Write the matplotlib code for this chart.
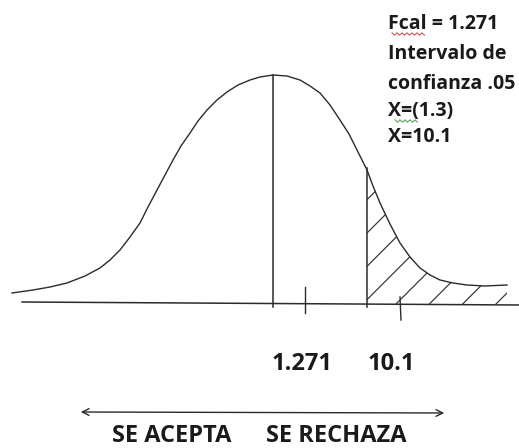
import numpy as np
import matplotlib
matplotlib.use('Agg')
import matplotlib.pyplot as plt

# hand drawn bell curve (pixel units, y grows down)
curve_x = [12, 33, 50, 67, 85, 100, 110, 120, 130, 140, 148, 157, 165, 173, 181, 190,
           198, 207, 217, 227, 238, 250, 260, 273, 287, 300, 310, 320, 330, 340, 349,
           357, 367, 373, 380, 390, 400, 410, 420, 430, 440, 453, 467, 485, 507]
curve_y = [293, 290, 287, 283, 276, 268, 260, 250, 237, 223, 207, 190, 175, 160, 146, 133,
           121, 110, 100, 92, 85, 80, 77, 75, 76, 80, 86, 93, 105, 120, 134,
           150, 170, 186, 203, 224, 243, 257, 268, 275, 280, 283, 285, 286, 285]

mean_x = 273          # vertical line at the peak
crit_x = 367          # start of rejection region
tick_x = [305, 400]
tick_labels = ['1.271', '10.1']
info_lines = ['Fcal = 1.271', 'Intervalo de', 'confianza .05', 'X=(1.3)', 'X=10.1']
zone_labels = ['SE ACEPTA', 'SE RECHAZA']

ink = '#2b2b2b'
font = ['Open Sans', 'DejaVu Sans']

fig = plt.figure(figsize=(5.19, 4.48), dpi=100)
ax = fig.add_axes([0, 0, 1, 1])
ax.set_xlim(0, 519)
ax.set_ylim(448, 0)
ax.axis('off')

cx = np.array(curve_x)
cy = np.array(curve_y)
ax.plot(cx, cy, color=ink, lw=1.0)

# baseline
ax.plot([22, 519], [302, 305], color=ink, lw=1.1)

# peak line and critical line
ax.plot([mean_x, mean_x], [75, 307], color=ink, lw=1.1)
ax.plot([crit_x, crit_x], [168, 307], color=ink, lw=1.1)

# hatched rejection tail
m = cx >= crit_x
plt.rcParams['hatch.linewidth'] = 0.9
plt.rcParams['hatch.color'] = '#3a3a3a'
ax.fill_between(cx[m], cy[m], 304, facecolor='none', hatch='/', edgecolor='#3a3a3a', linewidth=0)

# little tick marks
ax.plot([tick_x[0], tick_x[0]], [287, 313], color=ink, lw=1.0)
ax.plot([tick_x[1], tick_x[1] + 1], [297, 320], color=ink, lw=1.0)

txt = dict(fontweight='bold', family=font, color='#1a1a1a')
ax.text(302, 364, tick_labels[0], ha='center', va='center', fontsize=17, **txt)
ax.text(391, 364, tick_labels[1], ha='center', va='center', fontsize=17, **txt)

for yy, s in zip([24, 54, 84, 111, 137], info_lines):
    ax.text(388, yy, s, ha='left', va='center', fontsize=14, **txt)

# spell check squiggles under "Fcal" and "="
def squiggle(x0, x1, y, col):
    xs = np.arange(x0, x1 + 1, 2.5)
    ys = y + np.where(np.arange(len(xs)) % 2 == 0, -1.2, 1.2)
    ax.plot(xs, ys, color=col, lw=0.7)

squiggle(392, 426, 34, '#d04040')
squiggle(395, 419, 121, '#4a9a4a')

# two headed arrow
ax.annotate('', xy=(447, 413), xytext=(78, 412),
            arrowprops=dict(arrowstyle='<->', color=ink, lw=1.0, mutation_scale=12))

ax.text(172, 436, zone_labels[0], ha='center', va='center', fontsize=17, **txt)
ax.text(336, 436, zone_labels[1], ha='center', va='center', fontsize=17, **txt)

fig.savefig('out.png', dpi=100, facecolor='white')
